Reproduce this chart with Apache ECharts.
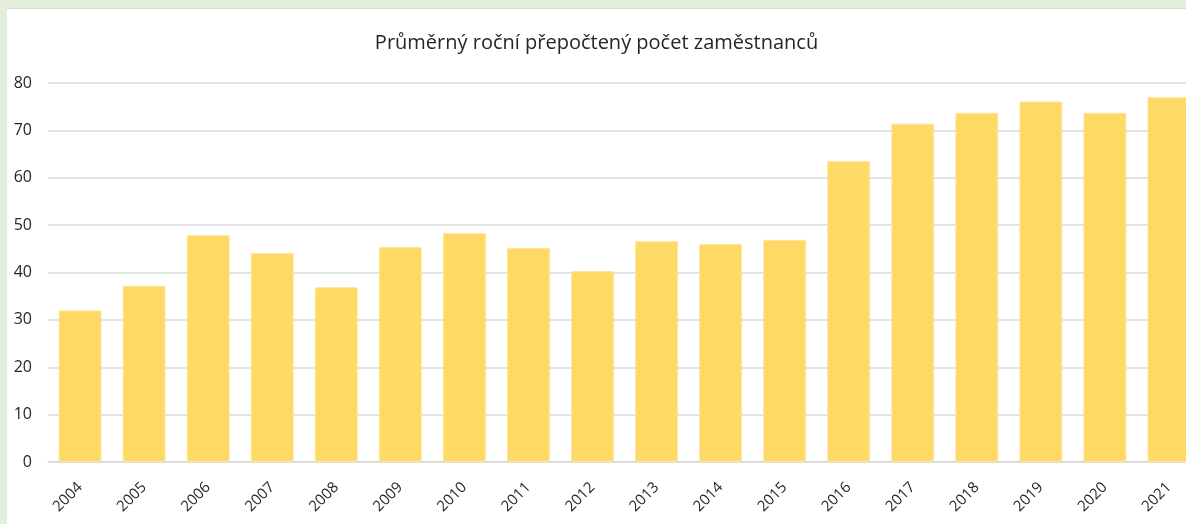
<!DOCTYPE html>
<html>
<head>
<meta charset="utf-8">
<script src="https://cdn.jsdelivr.net/npm/echarts@6/dist/echarts.min.js"></script>
<style>
  html, body { margin: 0; padding: 0; background: #e2efda; }
  #main {
    position: absolute; left: 7px; top: 8px; width: 1179px; height: 516px;
    background: #fff; border-top: 1px solid #d9d9d9; box-sizing: border-box;
  }
</style>
</head>
<body>
<div id="main"></div>
<script>
var years = ['2004', '2005', '2006', '2007', '2008', '2009', '2010', '2011', '2012',
  '2013', '2014', '2015', '2016', '2017', '2018', '2019', '2020', '2021'];
var employees = [32.0, 37.2, 47.9, 44.1, 36.9, 45.4, 48.3, 45.2, 40.3,
  46.6, 46.0, 46.9, 63.5, 71.4, 73.7, 76.1, 73.7, 77.0];
var yTicks = [0, 10, 20, 30, 40, 50, 60, 70, 80];

var myChart = echarts.init(document.getElementById('main'));
var option = {
    animation: false,
    title: {
        text: 'Průměrný roční přepočtený počet zaměstnanců',
        left: 'center',
        top: 19,
        textStyle: {
            fontFamily: 'Open Sans',
            fontSize: 20,
            fontWeight: 'normal',
            color: '#262626'
        }
    },
    grid: {
        left: 41,
        top: 74,
        width: 1153,
        bottom: 62,
        outerBoundsMode: 'none'
    },
    xAxis: {
        type: 'category',
        data: years,
        axisLine: { lineStyle: { color: '#d9d9d9', width: 1.5 } },
        axisTick: { show: false },
        axisLabel: {
            rotate: 45,
            margin: 23,
            fontFamily: 'Open Sans',
            fontSize: 15,
            color: '#262626'
        }
    },
    yAxis: {
        type: 'value',
        min: yTicks[0],
        max: yTicks[yTicks.length - 1],
        interval: 10,
        axisLine: { show: false },
        axisTick: { show: false },
        splitLine: { lineStyle: { color: '#d9d9d9', width: 1.5 } },
        axisLabel: {
            margin: 16,
            fontFamily: 'Open Sans',
            fontSize: 16,
            color: '#262626'
        }
    },
    series: [
        {
            type: 'bar',
            data: employees,
            barCategoryGap: '33%',
            itemStyle: {
                color: '#ffd966',
                borderColor: '#ffe699',
                borderWidth: 1
            }
        }
    ]
};
myChart.setOption(option);
</script>
</body>
</html>
